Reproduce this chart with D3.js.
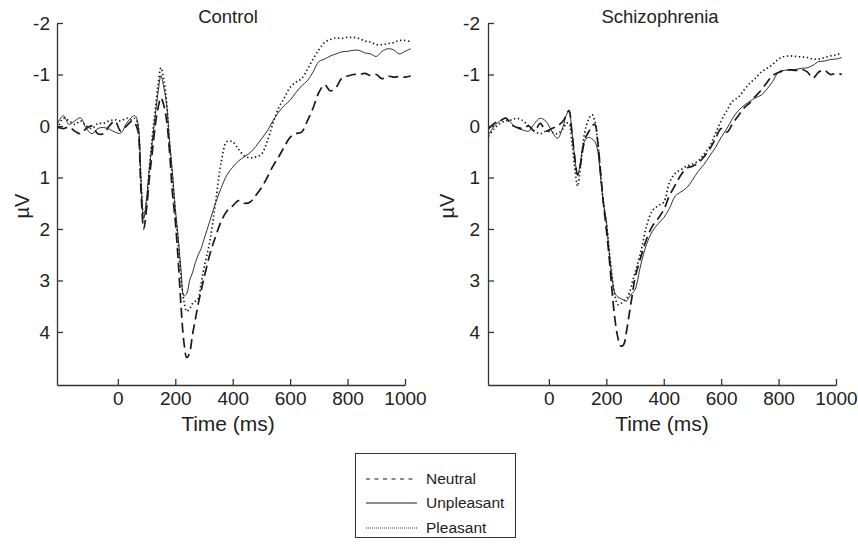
<!DOCTYPE html>
<html>
<head>
<meta charset="utf-8">
<script src="https://cdn.jsdelivr.net/npm/d3@7"></script>
<style>
  body { margin: 0; background: #fff; }
  svg { font-family: "Liberation Sans", Arial, sans-serif; }
  .axis path, .axis line { stroke: #333; stroke-width: 1.3; }
  .axis text { font-size: 19px; fill: #222; }
</style>
</head>
<body>
<div id="chart"></div>
<script>
// ERP time base (ms) shared by every series
var times = [-210, -190, -170, -150, -130, -110, -90, -70, -50, -30, -10, 10, 30, 50,
  60, 70, 80, 90, 100, 110, 120, 130, 140, 150, 160, 170, 180, 190, 200, 210, 220,
  230, 240, 250, 260, 270, 280, 290, 300, 320, 340, 360, 380, 400, 420, 440, 460,
  480, 500, 520, 540, 560, 580, 600, 620, 640, 660, 680, 700, 720, 740, 760, 780,
  800, 820, 840, 860, 880, 900, 920, 940, 960, 980, 1000, 1020];

var panels = ['Control', 'Schizophrenia'];
var conditions = ['Neutral', 'Unpleasant', 'Pleasant'];
var xTicks = [0, 200, 400, 600, 800, 1000];
var yTicks = [-2, -1, 0, 1, 2, 3, 4];

// Control group (µV)
var controlNeutral = [0.02, 0.05, 0.02, 0.1, 0.15, 0.05, 0, 0.15, 0.15, 0, -0.1, 0.1, 0, -0.1,
  -0.05, 0.1, 1.2, 2.0, 1.6, 1.0, 0.5, 0, -0.35, -0.55, -0.4, -0.1, 0.5, 1.3, 1.85, 2.6, 3.5,
  4.2, 4.5, 4.4, 4.05, 3.75, 3.45, 3.2, 2.95, 2.5, 2.15, 1.85, 1.65, 1.55, 1.45, 1.5, 1.48,
  1.35, 1.2, 1.0, 0.78, 0.6, 0.4, 0.22, 0.15, 0.12, -0.1, -0.35, -0.65, -0.8, -0.68, -0.75, -0.93,
  -0.97, -1.0, -1.0, -1.02, -0.98, -1.0, -0.92, -0.97, -0.95, -0.96, -0.95, -0.97];
var controlUnpleasant = [-0.05, -0.2, -0.03, -0.1, -0.16, 0.05, 0.15, 0.05, 0.03, 0.06, 0.12, 0.14, -0.05, -0.18,
  -0.2, -0.05, 1.0, 1.8, 1.4, 0.8, 0.3, -0.2, -0.65, -0.98, -0.75, -0.4, 0.3, 0.9, 1.6, 2.15, 2.8,
  3.3, 3.25, 3.0, 2.85, 2.65, 2.5, 2.38, 2.2, 1.85, 1.5, 1.2, 0.95, 0.8, 0.68, 0.6, 0.52,
  0.4, 0.25, 0.1, -0.1, -0.27, -0.4, -0.5, -0.65, -0.78, -0.88, -1.05, -1.25, -1.3, -1.36, -1.4, -1.44,
  -1.45, -1.47, -1.47, -1.42, -1.4, -1.35, -1.45, -1.5, -1.48, -1.4, -1.45, -1.5];
var controlPleasant = [0.05, -0.15, -0.1, -0.03, -0.1, 0, 0.05, -0.05, -0.05, -0.1, -0.12, -0.1, -0.15, -0.12,
  -0.15, 0, 1.0, 1.75, 1.5, 0.8, 0.2, -0.3, -0.8, -1.13, -0.9, -0.45, 0.35, 1.0, 1.7, 2.3, 2.95,
  3.4, 3.6, 3.55, 3.45, 3.4, 3.35, 3.05, 2.75, 2.25, 1.5, 0.7, 0.3, 0.31, 0.45, 0.58, 0.62,
  0.6, 0.55, 0.3, -0.05, -0.35, -0.55, -0.75, -0.85, -0.92, -1.1, -1.3, -1.48, -1.62, -1.68, -1.71, -1.7,
  -1.72, -1.72, -1.7, -1.65, -1.63, -1.58, -1.58, -1.6, -1.62, -1.66, -1.66, -1.64];

// Schizophrenia group (µV)
var schizNeutral = [0.05, -0.05, -0.1, -0.15, -0.02, 0.03, 0.05, 0, 0.1, -0.05, 0.1, 0.05, 0, -0.1,
  -0.2, -0.3, 0.1, 0.6, 0.95, 0.75, 0.4, 0.2, 0.1, 0, -0.03, 0.3, 0.9, 1.5, 2.0, 2.55, 3.2,
  3.75, 4.1, 4.27, 4.25, 4.0, 3.65, 3.3, 2.95, 2.55, 2.2, 1.95, 1.8, 1.63, 1.35, 1.15, 0.95,
  0.82, 0.78, 0.72, 0.6, 0.45, 0.25, 0.05, 0.12, -0.05, -0.2, -0.35, -0.45, -0.58, -0.7, -0.85, -0.98,
  -1.04, -1.08, -1.09, -1.08, -1.1, -1.05, -0.93, -1.05, -1.08, -1.0, -1.02, -1.0];
var schizUnpleasant = [0.17, 0, -0.1, -0.16, -0.05, 0.04, 0.08, 0.1, -0.05, -0.15, -0.09, 0.1, 0.24, 0,
  -0.2, -0.3, 0.1, 0.6, 0.95, 0.7, 0.35, 0.25, 0.22, 0.25, 0.3, 0.48, 1.0, 1.5, 1.85, 2.45, 2.95,
  3.25, 3.32, 3.35, 3.38, 3.4, 3.32, 3.25, 3.18, 2.7, 2.3, 2.05, 1.9, 1.78, 1.6, 1.36, 1.28,
  1.2, 1.05, 0.88, 0.75, 0.58, 0.42, 0.22, 0.05, -0.15, -0.3, -0.4, -0.48, -0.55, -0.6, -0.72, -0.87,
  -1.05, -1.08, -1.09, -1.1, -1.12, -1.13, -1.18, -1.25, -1.26, -1.29, -1.3, -1.33];
var schizPleasant = [0.2, 0.05, -0.05, -0.1, -0.12, -0.15, -0.1, 0, 0.1, 0.15, 0.1, 0.12, 0.15, 0.05,
  -0.05, -0.05, 0.3, 0.8, 1.17, 0.8, 0.3, 0, -0.15, -0.22, -0.1, 0.3, 0.9, 1.5, 1.85, 2.4, 2.9,
  3.3, 3.47, 3.45, 3.4, 3.35, 3.25, 3.05, 2.85, 2.45, 1.95, 1.65, 1.55, 1.48, 1.1, 0.92, 0.85,
  0.78, 0.74, 0.68, 0.55, 0.4, 0.15, -0.1, -0.3, -0.48, -0.56, -0.7, -0.83, -0.93, -1.05, -1.12, -1.2,
  -1.3, -1.35, -1.36, -1.35, -1.34, -1.33, -1.3, -1.3, -1.33, -1.36, -1.38, -1.42];

var panelSeries = [
  [controlNeutral, controlUnpleasant, controlPleasant],
  [schizNeutral, schizUnpleasant, schizPleasant]
];

var lineStyles = [
  {dash: '10,5', width: 1.7},
  {dash: null, width: 0.9},
  {dash: '1.4,2.6', width: 1.7}
];
var legendStyles = [
  {dash: '4,4.5', width: 1.2},
  {dash: null, width: 1.2},
  {dash: '1,1', width: 0.9}
];

var width = 858, height = 547;
var svg = d3.select('#chart').append('svg')
  .attr('width', width)
  .attr('height', height);

var panelLeft = [57, 488];
var panelWidth = 348;
var plotTop = 23, plotBottom = 385;

var y = d3.scaleLinear().domain([-2, 5.03]).range([plotTop, plotBottom]);

function plain(d) { return String(d); }

for (var p = 0; p < panels.length; p++) {
  var x0 = panelLeft[p];
  var x = d3.scaleLinear().domain([-212, 1000]).range([x0, x0 + panelWidth]);

  var g = svg.append('g');

  var line = d3.line()
    .x(function(d) { return x(d[0]); })
    .y(function(d) { return y(d[1]); })
    .curve(d3.curveCatmullRom.alpha(0.5));

  for (var s = 0; s < conditions.length; s++) {
    var vals = panelSeries[p][s];
    var pts = times.map(function(t, i) { return [t, vals[i]]; });
    g.append('path')
      .attr('d', line(pts))
      .attr('fill', 'none')
      .attr('stroke', '#1a1a1a')
      .attr('stroke-width', lineStyles[s].width)
      .attr('stroke-dasharray', lineStyles[s].dash);
  }

  g.append('g')
    .attr('class', 'axis')
    .attr('transform', 'translate(' + x0 + ',0)')
    .call(d3.axisLeft(y).tickValues(yTicks).tickSizeInner(-6).tickSizeOuter(0)
      .tickPadding(p === 0 ? 7 : 8).tickFormat(plain));

  g.append('g')
    .attr('class', 'axis')
    .attr('transform', 'translate(0,' + plotBottom + ')')
    .call(d3.axisBottom(x).tickValues(xTicks).tickSizeInner(-6).tickSizeOuter(0)
      .tickPadding(7).tickFormat(plain));

  var cx = p === 0 ? 228 : 660;
  g.append('text')
    .attr('x', cx)
    .attr('y', 23)
    .attr('text-anchor', 'middle')
    .style('font-size', '18.5px')
    .style('fill', '#222')
    .text(panels[p]);

  g.append('text')
    .attr('x', p === 0 ? 228 : 662)
    .attr('y', 431)
    .attr('text-anchor', 'middle')
    .style('font-size', '21px')
    .style('fill', '#222')
    .text('Time (ms)');

  var lx = p === 0 ? 22 : 447;
  g.append('text')
    .attr('transform', 'translate(' + lx + ',206) rotate(-90)')
    .attr('text-anchor', 'middle')
    .attr('dominant-baseline', 'central')
    .style('font-size', '20px')
    .style('fill', '#222')
    .text('µV');
}

// legend
var legend = svg.append('g');
legend.append('rect')
  .attr('x', 355.5)
  .attr('y', 453.5)
  .attr('width', 160)
  .attr('height', 84)
  .attr('fill', 'none')
  .attr('stroke', '#333')
  .attr('stroke-width', 1);

var rowY = [479, 503, 528];
conditions.forEach(function(name, i) {
  legend.append('line')
    .attr('x1', 366)
    .attr('x2', 417)
    .attr('y1', rowY[i])
    .attr('y2', rowY[i])
    .attr('stroke', '#1a1a1a')
    .attr('stroke-width', legendStyles[i].width)
    .attr('stroke-dasharray', legendStyles[i].dash);
  legend.append('text')
    .attr('x', 426)
    .attr('y', rowY[i])
    .attr('dy', '0.35em')
    .style('font-size', '15.5px')
    .style('fill', '#222')
    .text(name);
});
</script>
</body>
</html>
